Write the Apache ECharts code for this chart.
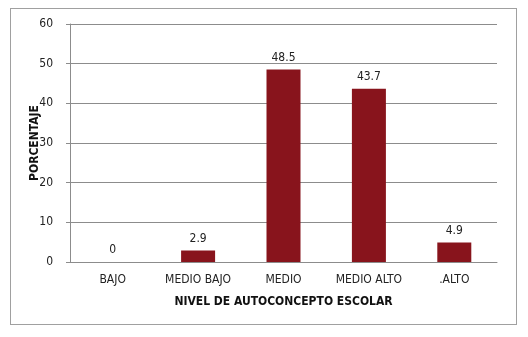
<!DOCTYPE html>
<html><head><meta charset="utf-8">
<script src="https://cdn.jsdelivr.net/npm/echarts@6/dist/echarts.min.js"></script>
<style>html,body{margin:0;padding:0;background:#fff}#c{width:528px;height:337px;position:relative}
#frame{position:absolute;left:10px;top:8px;width:507px;height:317px;border:1px solid #a0a0a0;box-sizing:border-box;pointer-events:none}</style>
</head><body><div id="c"></div><div id="frame"></div>
<script>
const categories = ['BAJO', 'MEDIO BAJO', 'MEDIO', 'MEDIO ALTO', 'ALTO'];
const categoryLabels = ['BAJO', 'MEDIO BAJO', 'MEDIO', 'MEDIO ALTO', '.ALTO'];
const values = [0, 2.9, 48.5, 43.7, 4.9];
const yTicks = [0, 10, 20, 30, 40, 50, 60];
const font = "'Liberation Sans Narrow','DejaVu Sans Condensed',sans-serif";
const chart = echarts.init(document.getElementById('c'), null, {renderer: 'canvas'});
chart.setOption({
  animation: false,
  grid: {left: 70, right: 31, top: 24, bottom: 75},
  xAxis: {
    type: 'category', data: categories,
    axisLine: {lineStyle: {color: '#8c8c8c'}},
    axisTick: {show: false},
    axisLabel: {color: '#222', fontFamily: font, fontSize: 12, margin: 12, interval: 0,
      formatter: (v, i) => categoryLabels[i]},
    name: 'NIVEL DE AUTOCONCEPTO ESCOLAR', nameLocation: 'middle', nameGap: 34,
    nameTextStyle: {color: '#111', fontFamily: font, fontSize: 12, fontWeight: 'bold'}
  },
  yAxis: {
    type: 'value', min: yTicks[0], max: yTicks[yTicks.length - 1], interval: 10,
    axisLine: {show: true, lineStyle: {color: '#8c8c8c'}},
    axisTick: {show: true, length: 4, lineStyle: {color: '#8c8c8c'}},
    splitLine: {lineStyle: {color: '#8c8c8c'}},
    axisLabel: {color: '#222', fontFamily: font, fontSize: 12, margin: 17},
    name: 'PORCENTAJE', nameLocation: 'middle', nameGap: 29, nameRotate: 90, nameMoveOverlap: false,
    nameTextStyle: {color: '#111', fontFamily: font, fontSize: 12, fontWeight: 'bold'}
  },
  series: [{
    type: 'bar', data: values, barWidth: 34,
    itemStyle: {color: '#88141c'},
    label: {show: true, position: 'top', distance: 6, color: '#222', fontFamily: font, fontSize: 12}
  }]
});
</script></body></html>
